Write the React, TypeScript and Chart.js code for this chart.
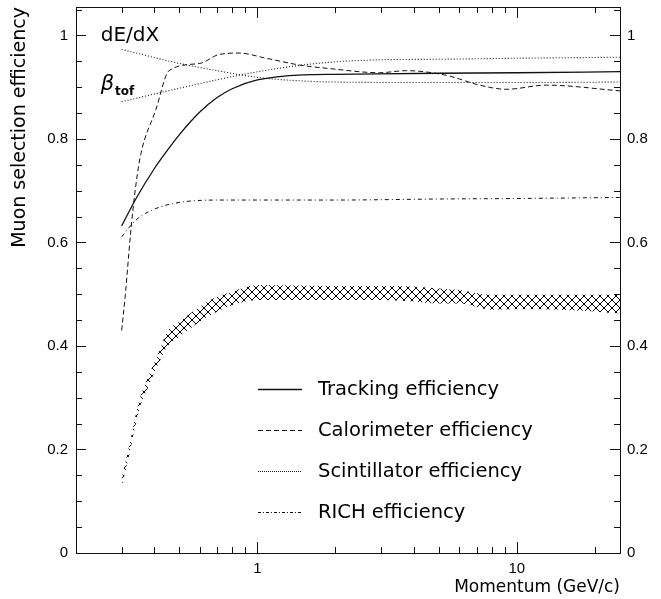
import React, { useEffect, useRef } from 'react';
import { Chart, registerables } from 'chart.js';

Chart.register(...registerables);

// ---------------- data ----------------
const trackingP = [0.3, 0.34, 0.4, 0.45, 0.5, 0.6, 0.7, 0.8, 1.0, 1.5, 2, 5, 10, 25];
const trackingEff = [0.632, 0.684, 0.742, 0.778, 0.808, 0.852, 0.88, 0.897, 0.914, 0.924, 0.925, 0.927, 0.928, 0.93];

const caloP = [0.3, 0.31, 0.325, 0.34, 0.356, 0.406, 0.457, 0.6, 0.71, 0.85, 1.08, 1.45, 1.9, 2.96, 3.75, 5.35, 7.2, 9.1, 13, 25];
const caloEff = [0.43, 0.5, 0.62, 0.71, 0.772, 0.856, 0.932, 0.946, 0.963, 0.966, 0.956, 0.943, 0.936, 0.928, 0.932, 0.923, 0.904, 0.896, 0.904, 0.893];

const scintDedxP = [0.3, 0.5, 0.7, 1.0, 1.5, 2, 5, 10, 25];
const scintDedxEff = [0.973, 0.946, 0.932, 0.919, 0.912, 0.91, 0.909, 0.909, 0.91];

const scintTofP = [0.3, 0.5, 0.955, 1.5, 2, 3, 5, 10, 25];
const scintTofEff = [0.872, 0.898, 0.928, 0.943, 0.949, 0.953, 0.954, 0.956, 0.958];

const richP = [0.3, 0.34, 0.383, 0.471, 0.693, 1, 2, 5, 10, 25];
const richEff = [0.611, 0.643, 0.66, 0.675, 0.682, 0.682, 0.682, 0.684, 0.685, 0.687];

const bandP = [0.3, 0.32, 0.35, 0.38, 0.4, 0.42, 0.45, 0.5, 0.6, 0.7, 0.8, 1, 2, 3, 4, 5, 6, 7, 8, 10, 15, 25];
const bandLow = [0.128, 0.187, 0.276, 0.321, 0.348, 0.37, 0.399, 0.418, 0.447, 0.466, 0.479, 0.489, 0.489, 0.489, 0.486, 0.482, 0.482, 0.476, 0.47, 0.471, 0.47, 0.463];
const bandHigh = [0.145, 0.205, 0.293, 0.341, 0.367, 0.392, 0.428, 0.447, 0.476, 0.495, 0.505, 0.518, 0.516, 0.516, 0.515, 0.511, 0.508, 0.502, 0.499, 0.499, 0.499, 0.499];

const legendLabels = ['Tracking efficiency', 'Calorimeter efficiency', 'Scintillator efficiency', 'RICH efficiency'];

const xLabelTicks = [1, 10];
const xAllTicks = [0.3, 0.4, 0.5, 0.6, 0.7, 0.8, 0.9, 1, 2, 3, 4, 5, 6, 7, 8, 9, 10, 20];
const yLabelTicks = [0, 0.2, 0.4, 0.6, 0.8, 1];
const yTickLabels = ['0', '0.2', '0.4', '0.6', '0.8', '1'];
const yAllTicks = [0, 0.05, 0.1, 0.15, 0.2, 0.25, 0.3, 0.35, 0.4, 0.45, 0.5, 0.55, 0.6, 0.65, 0.7, 0.75, 0.8, 0.85, 0.9, 0.95, 1, 1.05];

const annotTexts = ['dE/dX', 'β'];
const annotX = [0.249, 0.249];
const annotY = [1.0, 0.905];

// ---------------- styles ----------------
const INK = '#111';
const dashTracking: number[] = [];
const dashCalo = [5, 3];
const dashScint = [1, 2];
const dashRich = [4, 3, 1, 3];
const legendDashes = [dashTracking, dashCalo, [1, 1], [3, 2, 1, 2]];
const legendWidths = [1.3, 1, 1, 1];

const zip = (xs: number[], ys: number[]) => xs.map((x, i) => ({ x, y: ys[i] }));

function makeHatch(): CanvasPattern | string {
  const c = document.createElement('canvas');
  const s = 8;
  c.width = s;
  c.height = s;
  const g = c.getContext('2d');
  if (!g) return 'rgba(0,0,0,0.3)';
  g.strokeStyle = '#000';
  g.lineWidth = 1;
  g.beginPath();
  g.moveTo(-1, -1);
  g.lineTo(s + 1, s + 1);
  g.moveTo(s + 1, -1);
  g.lineTo(-1, s + 1);
  g.stroke();
  const p = g.createPattern(c, 'repeat');
  return p || 'rgba(0,0,0,0.3)';
}

const framePlugin = {
  id: 'frameTicksLegend',
  afterDraw(chart: any) {
    const { ctx, chartArea: a, scales } = chart;
    const xs = scales.x;
    const ys = scales.y;
    ctx.save();
    ctx.strokeStyle = INK;
    ctx.lineWidth = 1;
    ctx.setLineDash([]);
    ctx.strokeRect(Math.round(a.left) + 0.5, Math.round(a.top) + 0.5, Math.round(a.right - a.left), Math.round(a.bottom - a.top));

    // x ticks (bottom and top, inward)
    ctx.beginPath();
    xAllTicks.forEach((v) => {
      const px = Math.round(xs.getPixelForValue(v)) + 0.5;
      const major = xLabelTicks.includes(v);
      const len = major ? 11 : 6;
      ctx.moveTo(px, a.bottom);
      ctx.lineTo(px, a.bottom - len);
      ctx.moveTo(px, a.top);
      ctx.lineTo(px, a.top + len);
    });
    // y ticks (left and right, inward)
    yAllTicks.forEach((v) => {
      const py = Math.round(ys.getPixelForValue(v)) + 0.5;
      const major = yLabelTicks.some((t) => Math.abs(t - v) < 1e-6);
      const len = major ? 10 : 6;
      ctx.moveTo(a.left, py);
      ctx.lineTo(a.left + len, py);
      ctx.moveTo(a.right, py);
      ctx.lineTo(a.right - len, py);
    });
    ctx.stroke();

    // legend
    const lx = a.left + 182;
    const ly = a.top + 382;
    const rowH = 41;
    ctx.fillStyle = '#000';
    ctx.textBaseline = 'middle';
    ctx.textAlign = 'left';
    ctx.font = '19.5px "DejaVu Sans"';
    legendLabels.forEach((lab, i) => {
      const y = Math.round(ly + i * rowH) + 0.5;
      ctx.beginPath();
      ctx.setLineDash(legendDashes[i]);
      ctx.lineWidth = legendWidths[i];
      ctx.moveTo(lx, y);
      ctx.lineTo(lx + 44, y);
      ctx.stroke();
      ctx.fillText(lab, lx + 60, y);
    });
    ctx.setLineDash([]);

    // annotations
    ctx.font = '20px "DejaVu Sans"';
    ctx.fillText(annotTexts[0], xs.getPixelForValue(annotX[0]), ys.getPixelForValue(annotY[0]));
    const bx = xs.getPixelForValue(annotX[1]);
    const by = ys.getPixelForValue(annotY[1]);
    ctx.font = 'italic 21px "DejaVu Sans"';
    ctx.fillText(annotTexts[1], bx, by);
    const bw = ctx.measureText(annotTexts[1]).width;
    ctx.font = 'bold 12px "DejaVu Sans"';
    ctx.fillText('tof', bx + bw + 1, by + 7);
    ctx.restore();
  },
};

export default function App() {
  const ref = useRef<HTMLCanvasElement>(null);

  useEffect(() => {
    const canvas = ref.current;
    if (!canvas) return;
    const hatch = makeHatch();
    const tickFont = { family: 'Liberation Sans', size: 15, lineHeight: 1 };
    const lineBase = { pointRadius: 0, fill: false, cubicInterpolationMode: 'monotone' as const, borderColor: INK };
    const noPad = (s: any) => {
      s.paddingTop = 0;
      s.paddingBottom = 0;
      s.paddingLeft = 0;
      s.paddingRight = 0;
    };

    const chart = new Chart(canvas, {
      type: 'line',
      data: {
        datasets: [
          { ...lineBase, label: 'band low', data: zip(bandP, bandLow), borderWidth: 0 },
          { ...lineBase, label: 'band high', data: zip(bandP, bandHigh), borderWidth: 0, fill: '-1', backgroundColor: hatch as any },
          { ...lineBase, label: 'Tracking efficiency', data: zip(trackingP, trackingEff), borderWidth: 1.3, borderDash: dashTracking },
          { ...lineBase, label: 'Calorimeter efficiency', data: zip(caloP, caloEff), borderWidth: 1, borderDash: dashCalo },
          { ...lineBase, label: 'Scintillator efficiency', data: zip(scintDedxP, scintDedxEff), borderWidth: 1.1, borderDash: dashScint },
          { ...lineBase, label: 'Scintillator efficiency (tof)', data: zip(scintTofP, scintTofEff), borderWidth: 1.1, borderDash: dashScint },
          { ...lineBase, label: 'RICH efficiency', data: zip(richP, richEff), borderWidth: 1, borderDash: dashRich },
        ],
      },
      options: {
        animation: false,
        responsive: false,
        devicePixelRatio: 1,
        layout: { padding: { top: 7, left: 0, right: 0, bottom: 0 } },
        plugins: { legend: { display: false }, tooltip: { enabled: false } },
        elements: { point: { radius: 0 } },
        scales: {
          x: {
            type: 'logarithmic',
            position: 'bottom',
            min: 0.2,
            max: 25,
            grid: { display: false, drawTicks: false },
            border: { display: false },
            afterBuildTicks: (s: any) => {
              s.ticks = xLabelTicks.map((v) => ({ value: v }));
            },
            ticks: {
              font: tickFont,
              color: '#000',
              padding: 8,
              maxRotation: 0,
              autoSkip: false,
              callback: (v: any) => String(v),
            },
            title: {
              display: true,
              text: 'Momentum (GeV/c)',
              align: 'end',
              color: '#000',
              font: { family: 'DejaVu Sans', size: 17 },
              padding: { top: 0, bottom: 1 },
            },
            afterFit: (s: any) => {
              s.height = 46;
              noPad(s);
            },
          },
          y: {
            type: 'linear',
            position: 'left',
            min: 0,
            max: 1.055,
            grid: { display: false, drawTicks: false },
            border: { display: false },
            afterBuildTicks: (s: any) => {
              s.ticks = yLabelTicks.map((v) => ({ value: v }));
            },
            ticks: {
              font: tickFont,
              color: '#000',
              padding: 8,
              callback: (v: any) => yTickLabels[yLabelTicks.indexOf(Number(v))] ?? '',
            },
            title: {
              display: true,
              text: 'Muon selection efficiency',
              align: 'end',
              color: '#000',
              font: { family: 'DejaVu Sans', size: 19 },
              padding: { top: 9, bottom: 0 },
            },
            afterFit: (s: any) => {
              s.width = 76;
              noPad(s);
            },
          },
          y2: {
            type: 'linear',
            position: 'right',
            min: 0,
            max: 1.055,
            grid: { display: false, drawTicks: false },
            border: { display: false },
            afterBuildTicks: (s: any) => {
              s.ticks = yLabelTicks.map((v) => ({ value: v }));
            },
            ticks: {
              font: tickFont,
              color: '#000',
              padding: 7,
              callback: (v: any) => yTickLabels[yLabelTicks.indexOf(Number(v))] ?? '',
            },
            afterFit: (s: any) => {
              s.width = 41;
              noPad(s);
            },
          },
        },
      } as any,
      plugins: [framePlugin],
    });
    return () => chart.destroy();
  }, []);

  return (
    <div style={{ position: 'fixed', left: 0, top: 0, width: 661, height: 599, background: '#fff' }}>
      <canvas ref={ref} width={661} height={599} style={{ display: 'block', width: 661, height: 599 }} />
    </div>
  );
}
